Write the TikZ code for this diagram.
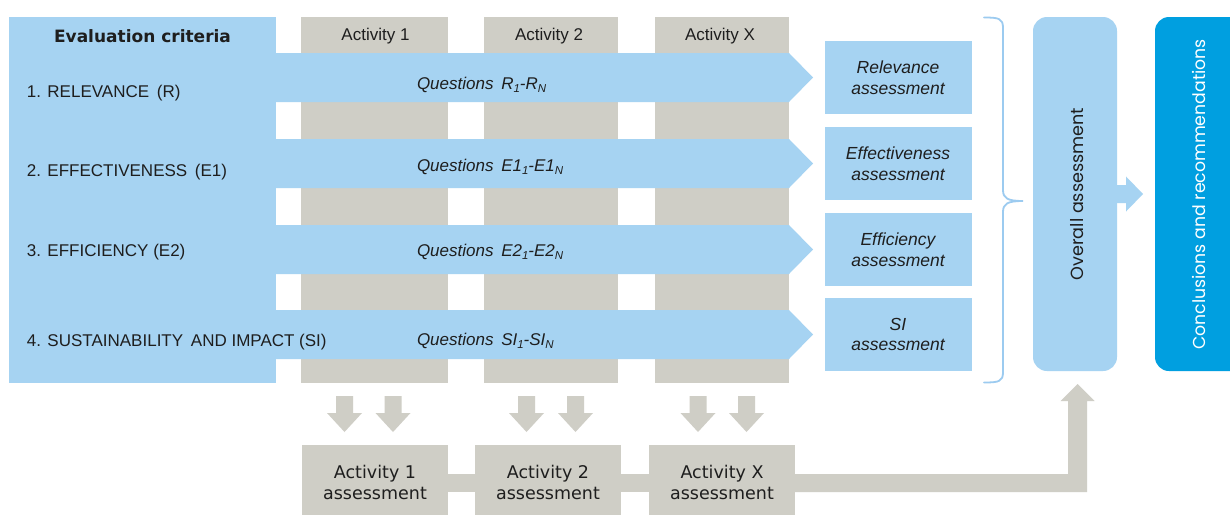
\documentclass[tikz,border=0pt]{standalone}
\usepackage{fontspec}
\setmainfont{Liberation Sans}
\newfontfamily\verd{DejaVu Sans}
\newfontfamily\popp{Poppins}
\usetikzlibrary{calc}
\definecolor{lblue}{HTML}{A6D3F2}
\definecolor{brc}{HTML}{9CCBF0}
\definecolor{gry}{HTML}{CFCEC6}
\definecolor{dblue}{HTML}{009FE0}
\definecolor{txt}{HTML}{1E1E1E}
\newcommand\sbs[1]{\raisebox{-0.35ex}{\fontsize{11.5}{11.5}\selectfont #1}}
\newcommand\dnarrow[1]{\fill[gry] (#1-8.5,396) -- (#1+8.5,396) -- (#1+8.5,413) -- (#1+17.5,413) -- (#1,432) -- (#1-17.5,413) -- (#1-8.5,413) -- cycle;}
\begin{document}
\begin{tikzpicture}[x=1pt,y=-1pt,
  every node/.style={inner sep=0pt, outer sep=0pt, text=txt},
  lab/.style={font=\fontsize{17}{20}\selectfont, anchor=base west},
  qlab/.style={font=\fontsize{17}{20}\selectfont\itshape, anchor=base west},
  head/.style={font=\fontsize{17}{20}\selectfont, anchor=base},
  col/.style={fill=gry, anchor=north west, minimum height=366pt},
  abox/.style={fill=lblue, minimum width=147pt, minimum height=73pt, align=center, font=\fontsize{17.5}{20.5}\selectfont\itshape},
  bbox/.style={fill=gry, anchor=north west, minimum width=146pt, minimum height=75pt, align=center, font=\verd\fontsize{17.5}{20.5}\selectfont},
  rbox/.style={rounded corners=14pt, anchor=north west, minimum height=354pt}]
\useasboundingbox (0,0) rectangle (1230,514);
\fill[white] (0,0) rectangle (1230,514);

% activity columns
\node[col, minimum width=147pt] (c1) at (301,17) {};
\node[col, minimum width=134pt] (c2) at (484,17) {};
\node[col, minimum width=134pt] (c3) at (655,17) {};
\node[head] (h1) at ($(c1.north)+(1,23)$) {Activity 1};
\node[head] (h2) at ($(c2.north)+(-2,23)$) {Activity 2};
\node[head] (h3) at ($(c3.north)+(-2,23)$) {Activity X};

% criteria box
\node[fill=lblue, anchor=north west, minimum width=267pt, minimum height=366pt] (crit) at (9,17) {};
\node[font=\verd\bfseries\fontsize{17}{20}\selectfont, anchor=base] (ttl) at (142.5,42) {Evaluation criteria};

% assessment boxes
\node[abox] (ra) at (898,77.5) {Relevance\\assessment};
\node[abox] (ea) at (898,163.5) {Effectiveness\\assessment};
\node[abox] (fa) at (898,249.5) {Efficiency\\assessment};
\node[abox] (sa) at (898,334.5) {SI\\assessment};

% row arrows
\foreach \n/\yc in {ra/77.5, ea/163.5, fa/249.5, sa/334.5}{
  \fill[lblue] (275,\yc-24.5) -- (789,\yc-24.5) -- ($(\n.west)+(-11.5,0)$) -- (789,\yc+24.5) -- (275,\yc+24.5) -- cycle;
}

\node[lab] (l1) at (27,97) {1. RELEVANCE\hspace{3pt} (R)};
\node[lab] (l2) at (27,176) {2. EFFECTIVENESS\hspace{3pt} (E1)};
\node[lab] (l3) at (27,256) {3. EFFICIENCY (E2)};
\node[lab] (l4) at (27,346) {4. SUSTAINABILITY\hspace{3pt} AND IMPACT (SI)};

\node[qlab] (q1) at (417,89) {Questions\hspace{3pt} R\sbs{1}-R\sbs{N}};
\node[qlab] (q2) at (417,171) {Questions\hspace{3pt} E1\sbs{1}-E1\sbs{N}};
\node[qlab] (q3) at (417,256) {Questions\hspace{3pt} E2\sbs{1}-E2\sbs{N}};
\node[qlab] (q4) at (417,345) {Questions\hspace{3pt} SI\sbs{1}-SI\sbs{N}};

% brace
\draw[brc, line width=1.8pt, line cap=round] (984,17.5) .. controls (999,17.5) and (1003,18.5) .. (1003,28) -- (1003,190) .. controls (1003,198) and (1007,201) .. (1023,201) .. controls (1007,201) and (1003,204) .. (1003,212) -- (1003,372) .. controls (1003,381.5) and (999,382.5) .. (984,382.5);

% overall and conclusions
\node[rbox, fill=lblue, minimum width=84pt] (ov) at (1033,17) {};
\node[rotate=90, font=\popp\fontsize{17.6}{17.6}\selectfont] (ovt) at (1077,194) {Overall assessment};
\node[rbox, fill=dblue, minimum width=90pt] (cc) at (1155,17) {};
\node[rotate=90, text=white, font=\popp\fontsize{17.3}{17.3}\selectfont] (cct) at (1199,194.5) {Conclusions and recommendations};

\fill[lblue] ($(ov.east)+(-1,-9)$) -- ($(ov.east)+(9,-9)$) -- ($(ov.east)+(9,-17.5)$) -- ($(cc.west)+(-12,0)$) -- ($(ov.east)+(9,17.5)$) -- ($(ov.east)+(9,9)$) -- ($(ov.east)+(-1,9)$) -- cycle;

% down arrows
\dnarrow{344.5}\dnarrow{393}
\dnarrow{526.5}\dnarrow{575.5}
\dnarrow{698}\dnarrow{746.5}

% bottom boxes
\node[bbox] (b1) at (302,445) {Activity 1\\assessment};
\node[bbox] (b2) at (475,445) {Activity 2\\assessment};
\node[bbox] (b3) at (649,445) {Activity X\\assessment};
\fill[gry] ($(b1.north east)+(-1,29)$) rectangle ($(b2.north west)+(1,47)$);
\fill[gry] ($(b2.north east)+(-1,29)$) rectangle ($(b3.north west)+(1,47)$);
\fill[gry] ($(b3.north east)+(-1,29)$) -- (1068,474) -- (1068,401) -- (1060.5,401) -- ($(ov.south)+(2.5,13)$) -- (1094.5,401) -- (1087,401) -- (1087,492) -- ($(b3.north east)+(-1,47)$) -- cycle;
\end{tikzpicture}
\end{document}
